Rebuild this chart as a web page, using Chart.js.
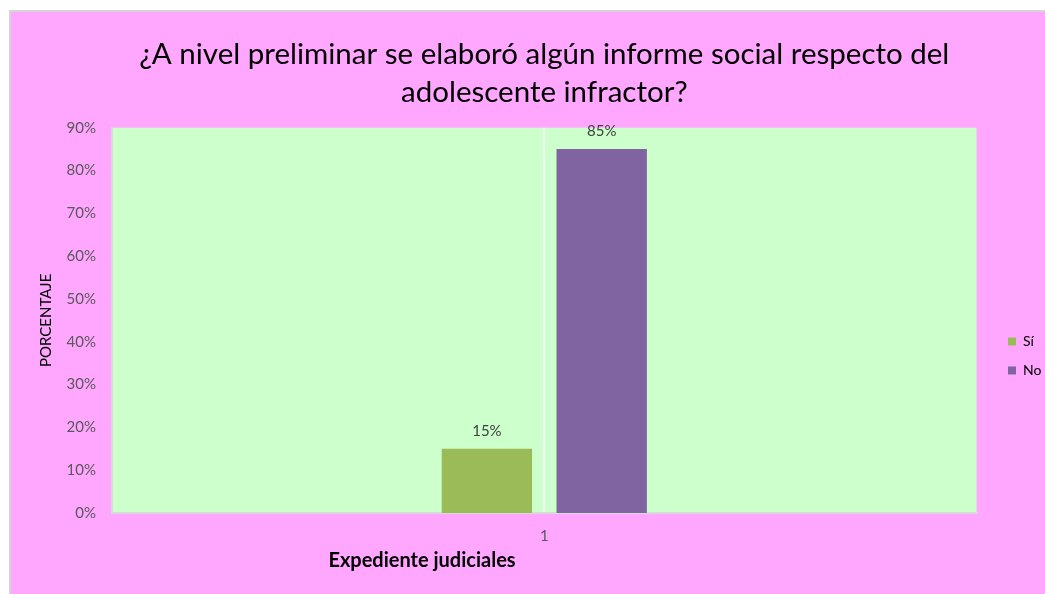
<!DOCTYPE html>
<html>
<head>
<meta charset="utf-8">
<script src="https://cdn.jsdelivr.net/npm/chart.js@4/dist/chart.umd.min.js"></script>
<style>
  html, body { margin: 0; padding: 0; background: #ffffff; width: 1045px; height: 594px; overflow: hidden; }
  #frame { position: absolute; left: 9px; top: 10px; width: 1034px; height: 582px;
           border-top: 2px solid #d4d4d4; border-left: 2px solid #d4d4d4; background: #FFA6FF; }
  #wrap { position: absolute; left: 0; top: 0; width: 1034px; height: 582px; }
</style>
</head>
<body>
<div id="frame"><div id="wrap"><canvas id="c" width="1034" height="582"></canvas></div></div>
<script>
// ---- Data ----
const categories = ['1'];
const seriesNames = ['Sí', 'No'];
const siValues = [15];
const noValues = [85];
const yTicks = [0, 10, 20, 30, 40, 50, 60, 70, 80, 90];
const titleLines = ['¿A nivel preliminar se elaboró algún informe social respecto del', 'adolescente infractor?'];
const yTitle = 'PORCENTAJE';
const xTitle = 'Expediente judiciales';

const FONT = 'Lato, "Open Sans", sans-serif';

const plotBg = {
  id: 'plotBg',
  beforeDraw(chart) {
    const {ctx, chartArea: a} = chart;
    ctx.save();
    ctx.fillStyle = '#CCFFCC';
    ctx.fillRect(a.left, a.top, a.right - a.left, a.bottom - a.top);
    ctx.restore();
  }
};

const legendShift = {
  id: 'legendShift',
  afterLayout(chart) {
    const lg = chart.legend;
    if (!lg) return;
    const dx = 982 - lg.left;
    lg.left += dx; lg.right += dx;
    lg.top += 53; lg.bottom += 53;
  }
};

const valueLabels = {
  id: 'valueLabels',
  afterDatasetsDraw(chart) {
    const {ctx} = chart;
    ctx.save();
    ctx.font = '15px ' + FONT;
    ctx.fillStyle = '#404040';
    ctx.textAlign = 'center';
    ctx.textBaseline = 'middle';
    chart.data.datasets.forEach((ds, i) => {
      chart.getDatasetMeta(i).data.forEach((bar, j) => {
        ctx.fillText(ds.data[j] + '%', bar.x, bar.y - 18);
      });
    });
    ctx.restore();
  }
};

const xTitlePlugin = {
  id: 'xTitlePlugin',
  afterDraw(chart) {
    const {ctx} = chart;
    ctx.save();
    ctx.font = 'bold 20px ' + FONT;
    ctx.fillStyle = '#000000';
    ctx.textAlign = 'center';
    ctx.textBaseline = 'middle';
    ctx.fillText(xTitle, 411, 549);
    ctx.restore();
  }
};

new Chart(document.getElementById('c'), {
  type: 'bar',
  data: {
    labels: categories,
    datasets: [
      { label: seriesNames[0], data: siValues, backgroundColor: '#9BBB59' },
      { label: seriesNames[1], data: noValues, backgroundColor: '#8064A2' }
    ]
  },
  options: {
    responsive: false,
    animation: false,
    devicePixelRatio: 1,
    layout: { padding: { left: 1, right: 10, top: 0, bottom: 0 } },
    datasets: { bar: { categoryPercentage: 0.2656, barPercentage: 0.787 } },
    plugins: {
      title: {
        display: true,
        text: titleLines,
        fullSize: false,
        color: '#000000',
        font: { family: FONT, size: 29.5, weight: 'normal', lineHeight: 1.3 },
        padding: { top: 23, bottom: 16 }
      },
      legend: {
        position: 'right',
        labels: {
          boxWidth: 8, boxHeight: 8, padding: 15,
          color: '#000000',
          font: { family: FONT, size: 14 }
        }
      },
      tooltip: { enabled: false }
    },
    scales: {
      x: {
        grid: { display: true, offset: false, color: '#f4f4f4', lineWidth: 2, drawTicks: false },
        border: { display: true, color: '#d9d9d9', width: 2 },
        ticks: { color: '#595959', font: { family: FONT, size: 15 }, padding: 14 },
        afterFit(scale) { scale.height = 81; }
      },
      y: {
        min: 0, max: 90,
        afterBuildTicks(scale) { scale.ticks = yTicks.map(v => ({ value: v })); },
        grid: { display: false, drawTicks: false },
        border: { display: true, color: '#d9d9d9', width: 2 },
        ticks: { color: '#595959', font: { family: FONT, size: 15 }, padding: 16,
                 callback: v => v + '%' },
        title: { display: true, text: yTitle, color: '#000000',
                 font: { family: FONT, size: 15 }, padding: { top: 25, bottom: 0 } },
        afterFit(scale) { scale.width = 100; }
      }
    }
  },
  plugins: [plotBg, legendShift, valueLabels, xTitlePlugin]
});
</script>
</body>
</html>
